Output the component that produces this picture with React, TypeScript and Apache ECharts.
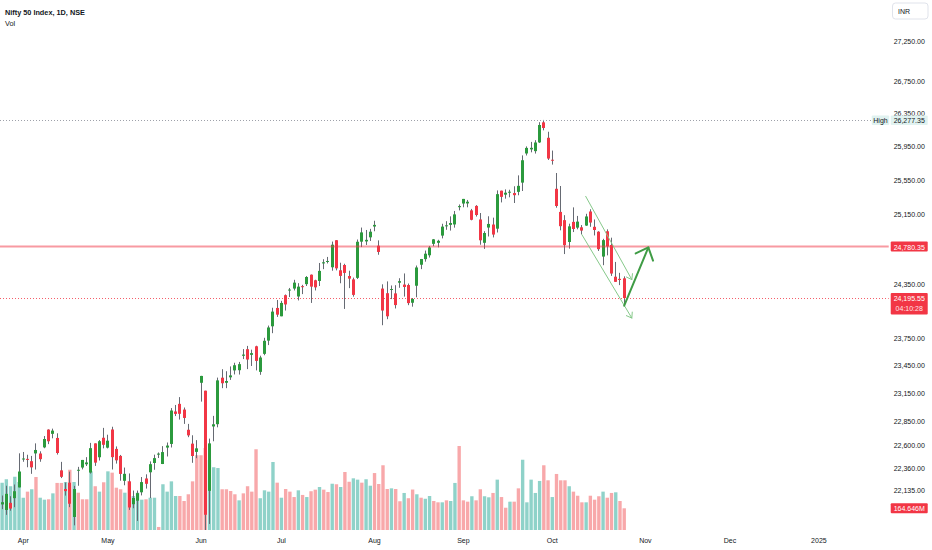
import React, { useEffect, useRef } from "react";
import * as echarts from "echarts";

// ---------- calendar (trading days per month) ----------
const march2024 = [21, 22, 26, 27, 28];
const april2024 = [1, 2, 3, 4, 5, 8, 9, 10, 12, 15, 16, 18, 19, 22, 23, 24, 25, 26, 29, 30];
const may2024 = [2, 3, 6, 7, 8, 9, 10, 13, 14, 15, 16, 17, 18, 21, 22, 23, 24, 27, 28, 29, 30, 31];
const june2024 = [3, 4, 5, 6, 7, 10, 11, 12, 13, 14, 18, 19, 20, 21, 24, 25, 26, 27, 28];
const july2024 = [1, 2, 3, 4, 5, 8, 9, 10, 11, 12, 15, 16, 18, 19, 22, 23, 24, 25, 26, 29, 30, 31];
const august2024 = [1, 2, 5, 6, 7, 8, 9, 12, 13, 14, 16, 19, 20, 21, 22, 23, 26, 27, 28, 29, 30];
const september2024 = [2, 3, 4, 5, 6, 9, 10, 11, 12, 13, 16, 17, 18, 19, 20, 23, 24, 25, 26, 27, 30];
const october2024 = [1, 3, 4, 7, 8, 9, 10, 11, 14, 15, 16, 17, 18, 21, 22, 23, 24, 25, 28, 29, 30, 31];
const november2024 = [1, 4, 5, 6, 7, 8, 11, 12, 13, 14, 18, 19, 20, 21, 22, 25, 26, 27, 28, 29];
const december2024 = [2, 3, 4, 5, 6, 9, 10, 11, 12, 13, 16, 17, 18, 19, 20, 23, 24, 26, 27, 30, 31];
const january2025 = [1, 2, 3, 6, 7, 8, 9, 10, 13, 14, 15, 16, 17, 20, 21, 22, 23];

// ---------- OHLC (Nifty 50, daily) ----------
const openPrices = [
  21989, 21932, 21947, 22053, 22163, 22456, 22458, 22370, 22551, 22455,
  22578, 22765, 22720, 22677, 22339, 22125, 22212, 21861, 22345, 22447,
  22421, 22316, 22620, 22475, 22679, 22575, 22766, 22562, 22489, 22231,
  22224, 21991, 22027, 22113, 22255, 22319, 22415, 22513, 22405, 22576,
  22614, 22931, 23038, 22977, 22763, 22617, 22568, 23338, 23179, 22128,
  22798, 22822, 23319, 23283, 23344, 23454, 23400, 23570, 23629, 23586,
  23661, 23382, 23578, 23723, 23881, 24085, 23992, 24228, 24291, 24369,
  24213, 24329, 24352, 24459, 24396, 24388, 24600, 24615, 24543, 24853,
  24445, 24569, 24444, 24231, 24423, 24943, 24839, 24886, 25030, 24790,
  24302, 24250, 24289, 24248, 24386, 24320, 24342, 24185, 24334, 24637,
  24636, 24680, 24863, 24846, 24906, 25025, 25030, 25035, 25249, 25333,
  25300, 25089, 25251, 25093, 24823, 24999, 25034, 24986, 25430, 25406,
  25416, 25402, 25487, 25525, 25872, 25921, 25900, 26005, 26248, 26061,
  25788, 25452, 25181, 25085, 24832, 25065, 25068, 25002, 25022, 25186,
  25008, 24951, 24665, 24956, 24798, 24378, 24412, 24418,
];
const highPrices = [
  22080, 22180, 22073, 22193, 22516, 22530, 22501, 22489, 22620, 22537,
  22697, 22768, 22775, 22726, 22427, 22213, 22326, 22179, 22375, 22447,
  22476, 22625, 22620, 22655, 22783, 22711, 22795, 22588, 22499, 22368,
  22307, 22131, 22131, 22270, 22298, 22432, 22502, 22525, 22591, 22629,
  22993, 23026, 23110, 22999, 22825, 22705, 22654, 23339, 23179, 22670,
  22910, 23320, 23411, 23389, 23441, 23481, 23490, 23630, 23665, 23624,
  23667, 23558, 23754, 23889, 24087, 24174, 24164, 24236, 24309, 24401,
  24363, 24344, 24443, 24461, 24402, 24592, 24635, 24661, 24837, 24854,
  24595, 24583, 24504, 24426, 24861, 24999, 24971, 24984, 25078, 24851,
  24350, 24383, 24337, 24340, 24419, 24473, 24359, 24196, 24563, 24638,
  24734, 24787, 24867, 24858, 25043, 25073, 25129, 25192, 25268, 25333,
  25321, 25216, 25260, 25168, 24957, 25130, 25114, 25433, 25430, 25445,
  25441, 25482, 25611, 25849, 25957, 26011, 26032, 26250, 26277.35, 26134,
  25907, 25639, 25485, 25143, 25044, 25234, 25134, 25028, 25159, 25212,
  25093, 24957, 24869, 24978, 24882, 24604, 24480, 24440,
];
const lowPrices = [
  21941, 21883, 21925, 21961, 22163, 22428, 22371, 22303, 22347, 22428,
  22569, 22612, 22673, 22503, 22259, 22079, 21961, 21777, 22180, 22349,
  22384, 22305, 22385, 22441, 22568, 22567, 22348, 22409, 22232, 22185,
  21933, 21950, 21821, 22081, 22151, 22054, 22345, 22467, 22404, 22483,
  22577, 22908, 22871, 22825, 22685, 22417, 22465, 23062, 21281, 21791,
  22642, 22789, 23206, 23206, 23295, 23354, 23353, 23521, 23412, 23446,
  23398, 23350, 23563, 23674, 23805, 23985, 23992, 24056, 24207, 24281,
  24169, 24240, 24331, 24141, 24281, 24331, 24522, 24587, 24504, 24508,
  24362, 24074, 24307, 24211, 24410, 24774, 24798, 24844, 24956, 24686,
  23893, 23960, 24184, 24079, 24311, 24212, 24116, 24099, 24204, 24522,
  24607, 24654, 24784, 24771, 24874, 24973, 24964, 24998, 25199, 25235,
  25235, 25083, 25127, 24801, 24753, 24896, 24885, 24942, 25292, 25336,
  25352, 25285, 25376, 25426, 25848, 25886, 25871, 25998, 26151, 25794,
  25739, 25230, 24967, 24694, 24756, 24947, 24979, 24920, 25018, 25008,
  24908, 24729, 24567, 24679, 24445, 24378, 24341, 24110,
];
const closePrices = [
  22012, 22097, 22005, 22124, 22327, 22462, 22453, 22434, 22515, 22514,
  22666, 22642, 22754, 22519, 22272, 22147, 21996, 22147, 22336, 22368,
  22402, 22570, 22419, 22643, 22605, 22648, 22476, 22443, 22302, 22303,
  21958, 22055, 22104, 22218, 22200, 22403, 22466, 22502, 22529, 22597,
  22967, 22957, 22932, 22888, 22704, 22488, 22531, 23264, 21884, 22620,
  22821, 23290, 23259, 23264, 23323, 23398, 23466, 23557, 23516, 23567,
  23501, 23538, 23721, 23868, 24044, 24010, 24141, 24124, 24286, 24302,
  24324, 24321, 24433, 24324, 24316, 24502, 24587, 24613, 24801, 24531,
  24509, 24479, 24414, 24406, 24835, 24836, 24857, 24951, 25011, 24718,
  24056, 23992, 24297, 24117, 24368, 24347, 24139, 24143, 24541, 24572,
  24698, 24770, 24811, 24823, 25010, 25017, 25052, 25152, 25236, 25279,
  25280, 25199, 25145, 24852, 24936, 25041, 24918, 25389, 25357, 25383,
  25418, 25377, 25416, 25791, 25939, 25940, 26004, 26216, 26179, 25811,
  25797, 25250, 25015, 24796, 25013, 24982, 24998, 24964, 25128, 25057,
  24971, 24750, 24854, 24781, 24472, 24436, 24399, 24195.55,
];
const priorClose = 21839.1; // close of the session before the first bar

// volume, millions of shares
const volumesM = [
  359, 385, 332, 404, 364, 245, 291, 309, 402, 245,
  230, 233, 278, 357, 357, 364, 457, 364, 283, 233,
  233, 445, 332, 291, 362, 445, 435, 321, 309, 283,
  372, 258, 283, 230, 233, 245, 245, 23, 347, 291,
  369, 258, 258, 220, 271, 369, 567, 567, 622, 531,
  476, 470, 309, 309, 296, 271, 225, 278, 332, 291,
  612, 241, 301, 291, 516, 359, 245, 311, 291, 250,
  301, 266, 250, 294, 306, 326, 306, 288, 351, 347,
  326, 440, 366, 392, 382, 359, 385, 336, 432, 349,
  491, 311, 316, 311, 218, 281, 241, 307, 271, 245,
  237, 258, 220, 210, 210, 225, 220, 357, 637, 225,
  215, 256, 225, 309, 256, 248, 281, 382, 250, 169,
  215, 215, 316, 533, 210, 382, 281, 372, 491, 377,
  250, 425, 377, 377, 332, 291, 260, 210, 210, 260,
  230, 256, 291, 245, 281, 286, 220, 164.646,
];

// ---------- price scale tick labels ----------
const priceTicks = [
  27250, 26750, 26350, 25950, 25550, 25150, 24350, 23750, 23450,
  23150, 22850, 22600, 22360, 22135,
];

// ---------- annotations ----------
const horizontalLevel = 24780.35;
const lastPrice = 24195.55;
const allTimeHigh = 26277.35;
const countdownText = "04:10:28";
const channelArrows = [
  [137.9, 25363, 148.8, 24403],
  [137.0, 24917, 148.8, 23972],
];
const reboundArrow = [147.0, 24110, 152.7, 24770];

// ---------- layout / style ----------
const W = 932;
const H = 550;
const BAR_COUNT = 210;
const BAND = 4.232;
const GRID_W = BAR_COUNT * BAND;
const GRID_H = 530;
const PRICE_MIN = 21730;
const PRICE_MAX = 27779;
const VOLUME_AXIS_MAX = 4020;
const FONT = "'Liberation Sans', Arial, sans-serif";
const FS = 7;
const TEXT = "#131722";
const GREEN = "#2b9a3d";
const RED = "#f23645";
const WICK = "#666a73";
const VOL_UP = "#8fd2c9";
const VOL_DOWN = "#f8a8aa";
const THIN_GREEN = "#86c98a";
const THICK_GREEN = "#3f9c45";

const monthNames = ["Jan", "Feb", "Mar", "Apr", "May", "Jun", "Jul", "Aug", "Sep", "Oct", "Nov", "Dec"];
const pad = (n: number) => (n < 10 ? "0" + n : "" + n);
const monthSpec: [number, number, number[]][] = [
  [2024, 3, march2024], [2024, 4, april2024], [2024, 5, may2024], [2024, 6, june2024],
  [2024, 7, july2024], [2024, 8, august2024], [2024, 9, september2024], [2024, 10, october2024],
  [2024, 11, november2024], [2024, 12, december2024], [2025, 1, january2025],
];
const dates: string[] = [];
monthSpec.forEach(([y, m, days]) => days.forEach((d) => dates.push(`${y}-${pad(m)}-${pad(d)}`)));

const isMonthStart = (i: number) => i > 0 && dates[i].slice(0, 7) !== dates[i - 1].slice(0, 7);
const fmtPrice = (v: number) =>
  v.toLocaleString("en-US", { minimumFractionDigits: 2, maximumFractionDigits: 2 });

const candleData = closePrices.map((c, i) => {
  const prev = i === 0 ? priorClose : closePrices[i - 1];
  return [i, Math.log(openPrices[i]), Math.log(c), Math.log(lowPrices[i]), Math.log(highPrices[i]), c >= prev ? 1 : -1];
});
const volumeData = volumesM.map((v, i) => ({
  value: v,
  itemStyle: { color: closePrices[i] >= openPrices[i] ? VOL_UP : VOL_DOWN },
}));
const levelData = [
  [0, Math.log(horizontalLevel), 0, horizontalLevel],
  [0, Math.log(lastPrice), 1, lastPrice],
  [0, Math.log(allTimeHigh), 2, allTimeHigh],
];
const drawingData = [
  ...channelArrows.map((a) => [a[0], Math.log(a[1]), a[2], Math.log(a[3]), 0]),
  [reboundArrow[0], Math.log(reboundArrow[1]), reboundArrow[2], Math.log(reboundArrow[3]), 1],
];
const lastVolume = volumesM[volumesM.length - 1];

// x position for a fractional bar index
const xAt = (api: any, idx: number, yv: number) => {
  const base = Math.floor(idx);
  const p = api.coord([base, yv]);
  return [p[0] + (idx - base) * api.size([1, 0])[0], p[1]];
};

const labelText = (text: string, x: number, y: number, fill: string) => ({
  type: "text",
  style: {
    text, x, y, fill, fontSize: FS, fontFamily: FONT,
    align: "center", verticalAlign: "middle", textAlign: "center", textVerticalAlign: "middle",
  },
});

const option: any = {
  animation: false,
  backgroundColor: "#ffffff",
  textStyle: { fontFamily: FONT },
  title: {
    text: "Nifty 50 Index, 1D, NSE",
    subtext: "Vol",
    left: 5,
    top: 7,
    padding: 0,
    itemGap: 1,
    textStyle: { fontSize: 7.3, fontWeight: "bold", color: TEXT, fontFamily: FONT, lineHeight: 10 },
    subtextStyle: { fontSize: 7.3, color: TEXT, fontFamily: FONT, lineHeight: 10 },
  },
  grid: [
    { left: 0, top: 0, width: GRID_W, height: GRID_H, outerBoundsMode: "none" },
    { left: 0, top: 0, width: GRID_W, height: GRID_H, outerBoundsMode: "none" },
  ],
  xAxis: [
    {
      type: "category",
      gridIndex: 0,
      data: dates,
      boundaryGap: true,
      axisLine: { show: false },
      axisTick: { show: false },
      splitLine: { show: false },
      axisLabel: {
        interval: (i: number) => isMonthStart(i),
        formatter: (v: string) => {
          const m = +v.slice(5, 7);
          return m === 1 ? v.slice(0, 4) : monthNames[m - 1];
        },
        fontSize: FS,
        color: TEXT,
        fontFamily: FONT,
        margin: 7,
      },
    },
    { type: "category", gridIndex: 1, data: dates, boundaryGap: true, show: false },
  ],
  yAxis: [
    {
      type: "value",
      gridIndex: 0,
      position: "right",
      min: Math.log(PRICE_MIN),
      max: Math.log(PRICE_MAX),
      axisLine: { show: false },
      axisTick: { show: false },
      splitLine: { show: false },
      axisLabel: {
        customValues: priceTicks.map((p) => Math.log(p)),
        formatter: (v: number) => fmtPrice(Math.exp(v)),
        fontSize: FS,
        color: TEXT,
        fontFamily: FONT,
        margin: 5,
      },
    },
    { type: "value", gridIndex: 1, min: 0, max: VOLUME_AXIS_MAX, show: false },
  ],
  graphic: [
    {
      type: "rect",
      z: 100,
      shape: { x: 892.5, y: 3, width: 35.5, height: 16, r: 3 },
      style: { fill: "#ffffff", stroke: "#e0e3eb", lineWidth: 1 },
    },
    {
      type: "text",
      z: 101,
      style: { text: "INR", x: 898, y: 11, fill: TEXT, fontSize: FS, fontFamily: FONT, verticalAlign: "middle", textVerticalAlign: "middle" },
    },
  ],
  series: [
    {
      name: "Vol",
      type: "bar",
      xAxisIndex: 1,
      yAxisIndex: 1,
      data: volumeData,
      barCategoryGap: "20%",
      z: 1,
    },
    {
      name: "Nifty 50",
      type: "custom",
      xAxisIndex: 0,
      yAxisIndex: 0,
      clip: true,
      z: 2,
      encode: { x: 0, y: [1, 2, 3, 4] },
      data: candleData,
      renderItem: (_params: any, api: any) => {
        const i = api.value(0);
        const o = api.coord([i, api.value(1)]);
        const c = api.coord([i, api.value(2)]);
        const l = api.coord([i, api.value(3)]);
        const h = api.coord([i, api.value(4)]);
        const up = api.value(5) > 0;
        const w = 3;
        const bx = Math.round(o[0] - w / 2);
        const top = Math.min(o[1], c[1]);
        const bh = Math.max(1, Math.abs(o[1] - c[1]));
        return {
          type: "group",
          children: [
            { type: "line", shape: { x1: bx + 1.5, y1: h[1], x2: bx + 1.5, y2: l[1] }, style: { stroke: WICK, lineWidth: 1 } },
            { type: "rect", shape: { x: bx, y: top, width: w, height: bh }, style: { fill: up ? GREEN : RED } },
          ],
        };
      },
    },
    {
      name: "levels",
      type: "custom",
      xAxisIndex: 0,
      yAxisIndex: 0,
      clip: false,
      z: 3,
      encode: { x: 0, y: 1 },
      data: levelData,
      renderItem: (params: any, api: any) => {
        const cs = params.coordSys;
        const y = api.coord([0, api.value(1)])[1];
        const kind = api.value(2);
        const price = api.value(3);
        const right = cs.x + cs.width;
        const yy = Math.round(y) + 0.5;
        const bx = right + 2;
        const bw = 37;
        const children: any[] = [];
        if (kind === 0) {
          children.push({ type: "line", shape: { x1: cs.x, y1: y, x2: right, y2: y }, style: { stroke: "rgba(242,54,69,0.5)", lineWidth: 2 } });
          children.push({ type: "rect", shape: { x: bx, y: y - 5, width: bw, height: 10, r: 1 }, style: { fill: RED } });
          children.push(labelText(fmtPrice(price), bx + bw / 2, y + 0.5, "#ffffff"));
        } else if (kind === 1) {
          children.push({ type: "line", shape: { x1: cs.x, y1: yy, x2: right, y2: yy }, style: { stroke: RED, lineWidth: 1, lineDash: [1, 2], opacity: 0.8 } });
          children.push({ type: "rect", shape: { x: bx, y: y - 5, width: bw, height: 21.5, r: 1 }, style: { fill: RED } });
          children.push(labelText(fmtPrice(price), bx + bw / 2, y + 0.8, "#ffffff"));
          children.push(labelText(countdownText, bx + bw / 2, y + 10.3, "#ffe3e5"));
        } else {
          children.push({ type: "line", shape: { x1: cs.x, y1: yy, x2: right - 17, y2: yy }, style: { stroke: "#9ea1aa", lineWidth: 1, lineDash: [1, 2] } });
          children.push({ type: "rect", shape: { x: right - 17, y: y - 4.5, width: 17.5, height: 9.5, r: 1 }, style: { fill: "#e0f2f0" } });
          children.push(labelText("High", right - 8.2, y + 0.3, TEXT));
          children.push({ type: "rect", shape: { x: bx, y: y - 4.5, width: bw, height: 9.5, r: 1 }, style: { fill: "#e0f2f0" } });
          children.push(labelText(fmtPrice(price), bx + bw / 2, y + 0.3, TEXT));
        }
        return { type: "group", children };
      },
    },
    {
      name: "drawings",
      type: "custom",
      xAxisIndex: 0,
      yAxisIndex: 0,
      clip: false,
      z: 4,
      encode: { x: [0, 2], y: [1, 3] },
      data: drawingData,
      renderItem: (_params: any, api: any) => {
        const a = xAt(api, api.value(0), api.value(1));
        const b = xAt(api, api.value(2), api.value(3));
        const thick = api.value(4) === 1;
        const color = thick ? THICK_GREEN : THIN_GREEN;
        const lw = thick ? 2 : 1;
        const len = thick ? 14 : 6;
        const spread = ((thick ? 42 : 35) * Math.PI) / 180;
        const back = Math.atan2(a[1] - b[1], a[0] - b[0]);
        const p1 = [b[0] + len * Math.cos(back + spread), b[1] + len * Math.sin(back + spread)];
        const p2 = [b[0] + len * Math.cos(back - spread), b[1] + len * Math.sin(back - spread)];
        return {
          type: "group",
          children: [
            { type: "line", shape: { x1: a[0], y1: a[1], x2: b[0], y2: b[1] }, style: { stroke: color, lineWidth: lw, lineCap: "round" } },
            { type: "polyline", shape: { points: [p1, b, p2] }, style: { stroke: color, lineWidth: lw, fill: "none", lineCap: "round", lineJoin: "round" } },
          ],
        };
      },
    },
    {
      name: "volume label",
      type: "custom",
      xAxisIndex: 1,
      yAxisIndex: 1,
      clip: false,
      z: 5,
      encode: { x: 0, y: 1 },
      data: [[0, lastVolume]],
      renderItem: (params: any, api: any) => {
        const cs = params.coordSys;
        const y = api.coord([0, api.value(1)])[1];
        const bx = cs.x + cs.width + 2;
        return {
          type: "group",
          children: [
            { type: "rect", shape: { x: bx, y: y - 5, width: 37, height: 10, r: 1 }, style: { fill: RED } },
            labelText(api.value(1).toFixed(3) + "M", bx + 18.5, y + 0.5, "#ffffff"),
          ],
        };
      },
    },
  ],
};

export default function App() {
  const ref = useRef<HTMLDivElement>(null);
  useEffect(() => {
    document.body.style.margin = "0";
    const chart = echarts.init(ref.current as HTMLDivElement, undefined, { renderer: "svg" });
    chart.setOption(option);
    return () => chart.dispose();
  }, []);
  return <div ref={ref} style={{ width: W, height: H }} />;
}
